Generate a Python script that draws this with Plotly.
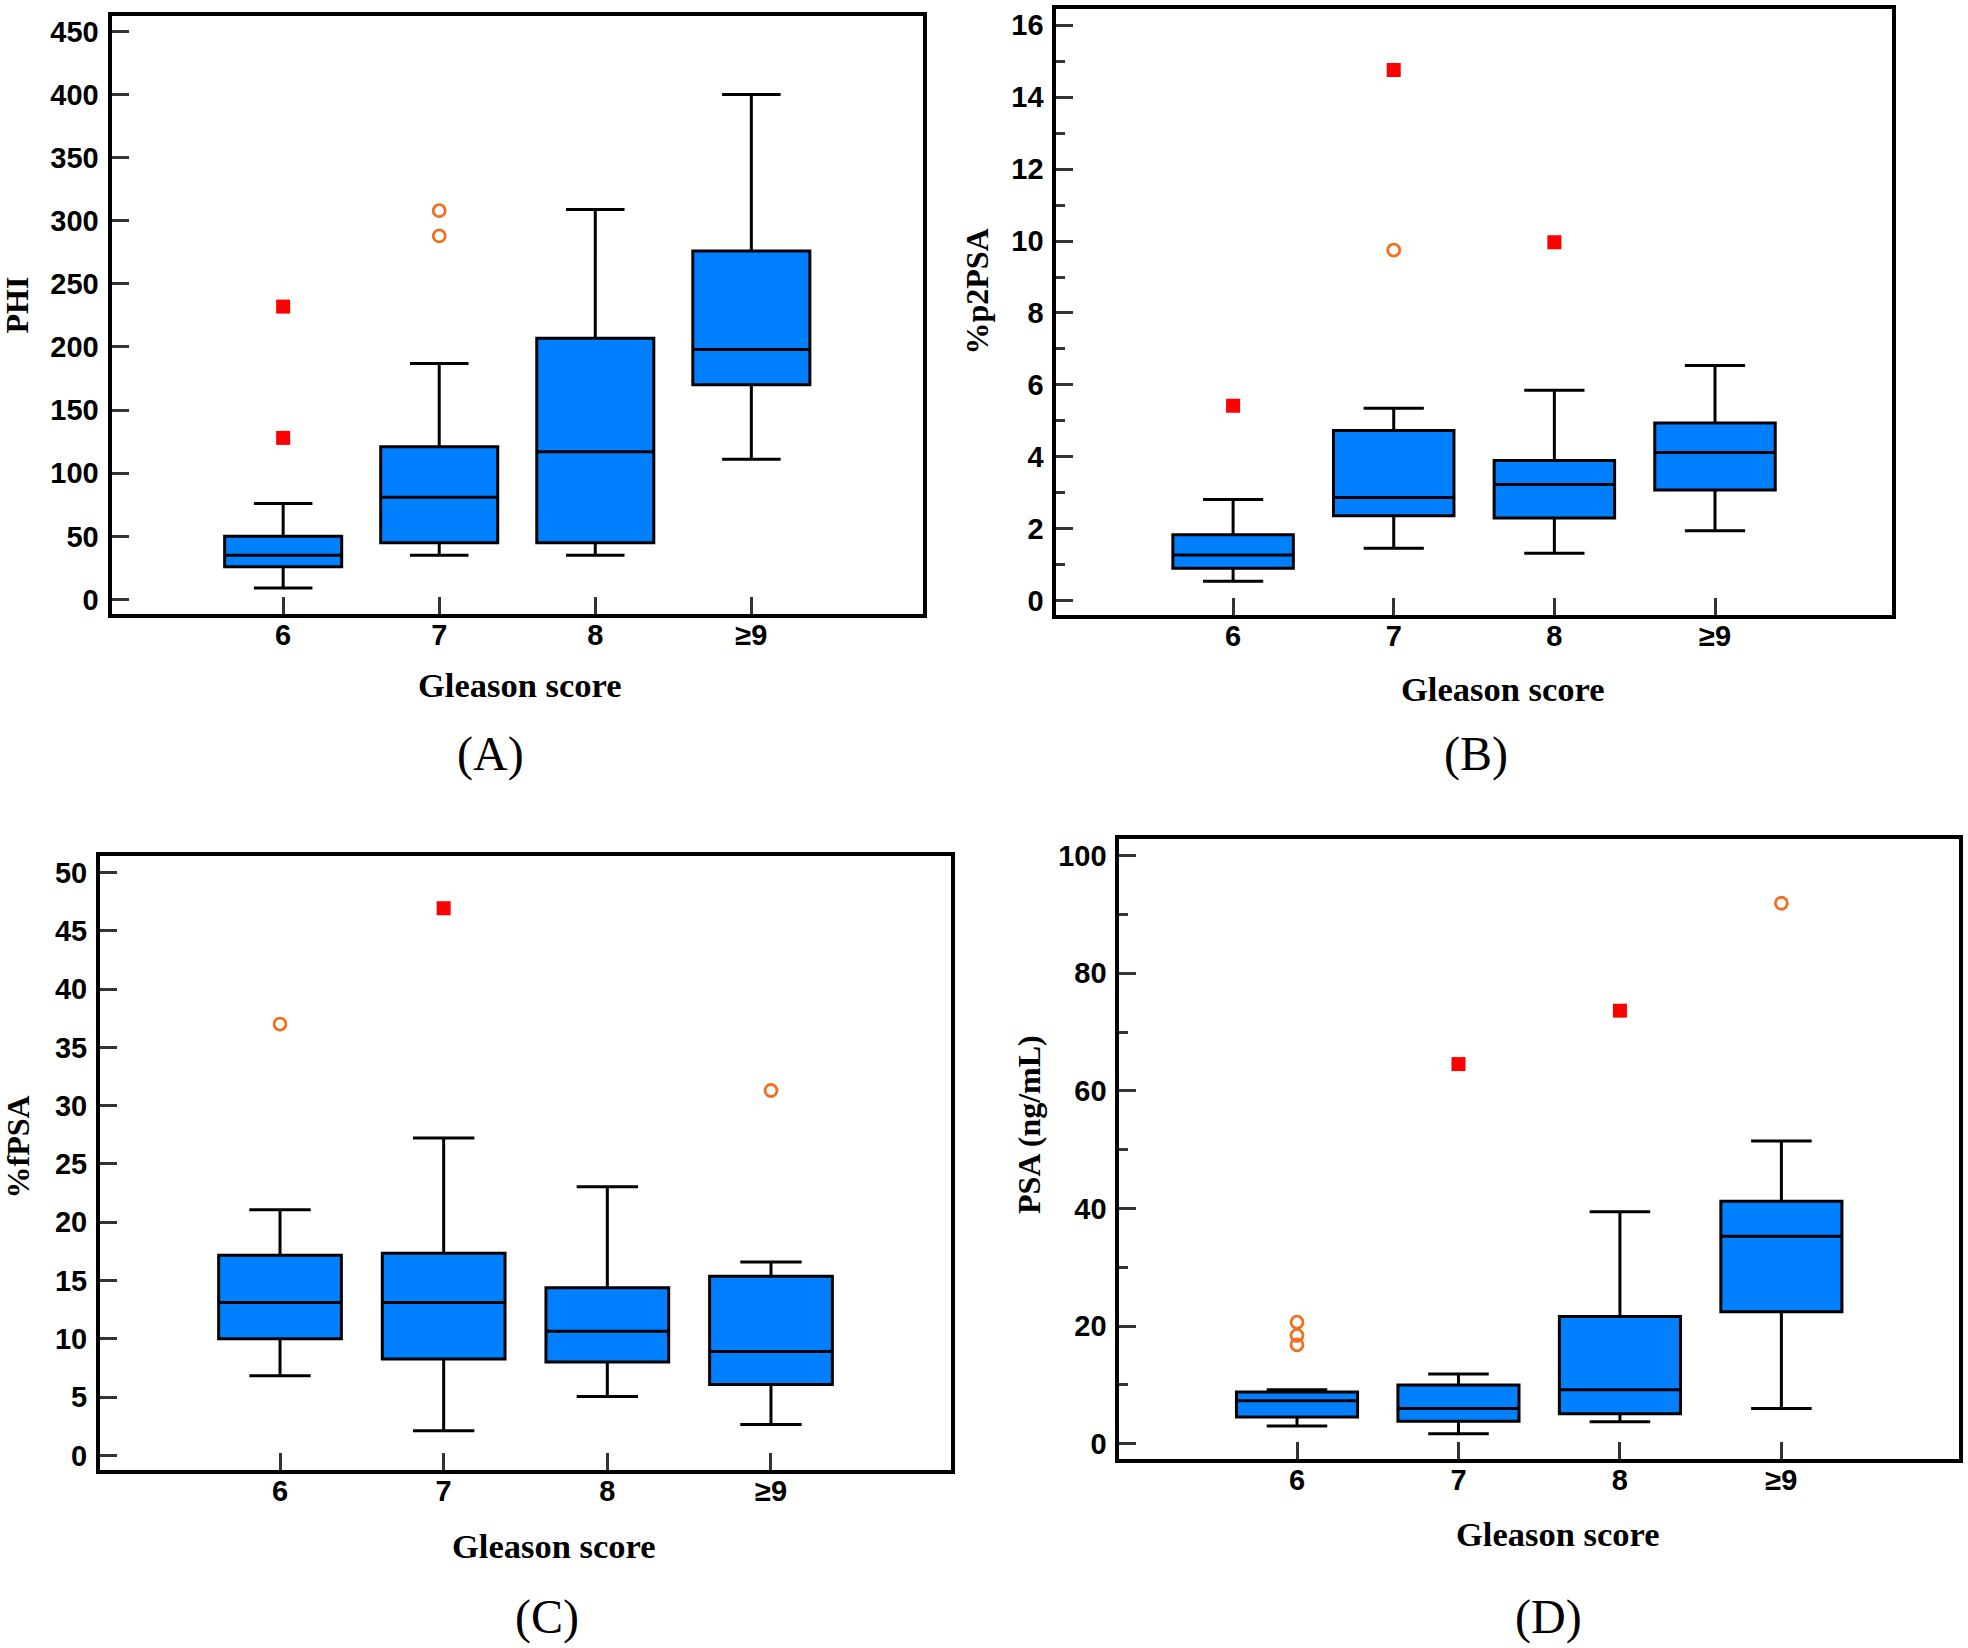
import plotly.graph_objects as go

W, H = 1968, 1648

categories = ['6', '7', '8', '≥9']

# Panel A: PHI
phi_q1 = [26, 45, 45, 170]
phi_med = [35, 81, 117, 198]
phi_q3 = [50, 121, 207, 276]
phi_lo = [9, 35, 35, 111]
phi_hi = [76, 187, 309, 400]
phi_far_x = ['6', '6']
phi_far_y = [232, 128]
phi_out_x = ['7', '7']
phi_out_y = [308, 288]

# Panel B: %p2PSA
p2_q1 = [0.90, 2.36, 2.30, 3.08]
p2_med = [1.27, 2.87, 3.23, 4.12]
p2_q3 = [1.83, 4.73, 3.90, 4.94]
p2_lo = [0.54, 1.46, 1.32, 1.94]
p2_hi = [2.81, 5.35, 5.85, 6.54]
p2_far_x = ['6', '7', '8']
p2_far_y = [5.42, 14.76, 9.97]
p2_out_x = ['7']
p2_out_y = [9.75]

# Panel C: %fPSA
f_q1 = [10.0, 8.27, 8.0, 6.07]
f_med = [13.12, 13.12, 10.65, 8.9]
f_q3 = [17.16, 17.34, 14.38, 15.37]
f_lo = [6.83, 2.12, 5.04, 2.65]
f_hi = [21.07, 27.22, 23.05, 16.58]
f_far_x = ['7']
f_far_y = [46.94]
f_out_x = ['6', '≥9']
f_out_y = [37.0, 31.3]

# Panel D: PSA (ng/mL)
psa_q1 = [4.53, 3.83, 5.07, 22.43]
psa_med = [7.3, 5.96, 9.16, 35.25]
psa_q3 = [8.8, 9.97, 21.63, 41.22]
psa_lo = [3.02, 1.68, 3.73, 5.96]
psa_hi = [9.16, 11.84, 39.45, 51.46]
psa_far_x = ['7', '8']
psa_far_y = [64.55, 73.64]
psa_out_x = ['6', '6', '6', '≥9']
psa_out_y = [20.65, 18.4, 16.8, 91.9]

BLUE = '#0080FF'
RED = '#FF0000'
ORANGE = '#F07020'
TICKFONT = dict(family='Liberation Sans, Arial, sans-serif', size=29, color='black', weight='bold')
SERIF = 'Liberation Serif, Times New Roman, serif'
LW = 4

panels = [
    dict(sfx='', frame=(109.5, 925, 13.5, 616.5), yr=[-11.8, 461.8], dtick=50, minor=None,
         q1=phi_q1, med=phi_med, q3=phi_q3, lo=phi_lo, hi=phi_hi,
         fx=phi_far_x, fy=phi_far_y, ox=phi_out_x, oy=phi_out_y),
    dict(sfx='2', frame=(1054.4, 1893.7, 6.5, 617.5), yr=[-0.41, 16.44], dtick=2, minor=1,
         q1=p2_q1, med=p2_med, q3=p2_q3, lo=p2_lo, hi=p2_hi,
         fx=p2_far_x, fy=p2_far_y, ox=p2_out_x, oy=p2_out_y),
    dict(sfx='3', frame=(98, 953, 854.3, 1473.6), yr=[-1.25, 51.44], dtick=5, minor=None,
         q1=f_q1, med=f_med, q3=f_q3, lo=f_lo, hi=f_hi,
         fx=f_far_x, fy=f_far_y, ox=f_out_x, oy=f_out_y),
    dict(sfx='4', frame=(1117.4, 1961, 837.4, 1462.6), yr=[-2.6, 102.85], dtick=20, minor=10,
         q1=psa_q1, med=psa_med, q3=psa_q3, lo=psa_lo, hi=psa_hi,
         fx=psa_far_x, fy=psa_far_y, ox=psa_out_x, oy=psa_out_y),
]

fig = go.Figure()
layout = dict(
    width=W, height=H, margin=dict(l=0, r=0, t=0, b=0),
    paper_bgcolor='white', plot_bgcolor='white', showlegend=False,
)

for p in panels:
    s = p['sfx']
    xa, ya = 'x' + s, 'y' + s
    fig.add_trace(go.Box(
        x=categories, q1=p['q1'], median=p['med'], q3=p['q3'],
        lowerfence=p['lo'], upperfence=p['hi'],
        fillcolor=BLUE, line=dict(color='black', width=3),
        width=0.75, whiskerwidth=0.5, boxpoints=False, orientation='v',
        xaxis=xa, yaxis=ya, hoverinfo='skip'))
    fig.add_trace(go.Scatter(
        x=p['fx'], y=p['fy'], mode='markers', xaxis=xa, yaxis=ya,
        marker=dict(symbol='square', size=14, color=RED, line=dict(width=0))))
    fig.add_trace(go.Scatter(
        x=p['ox'], y=p['oy'], mode='markers', xaxis=xa, yaxis=ya,
        marker=dict(symbol='circle-open', size=12, color=ORANGE, line=dict(width=2.8, color=ORANGE))))
    l, r, t, b = p['frame']
    l, r, t, b = l + LW / 2, r - LW / 2, t + LW / 2, b - LW / 2
    common = dict(showgrid=False, zeroline=False, showline=True, mirror=True,
                  linecolor='black', linewidth=LW, ticks='inside', ticklen=17,
                  tickwidth=3, tickcolor='#333333', tickfont=TICKFONT)
    xkey = 'xaxis' + s
    ykey = 'yaxis' + s
    layout[xkey] = dict(common, domain=[l / W, r / W], anchor=ya, type='category',
                        categoryorder='array', categoryarray=categories,
                        range=[-1.1, 4.1], ticklabelstandoff=-8)
    yax = dict(common, domain=[1 - b / H, 1 - t / H], anchor=xa, range=p['yr'],
               dtick=p['dtick'], tick0=0, ticklabelstandoff=3)
    if p['minor']:
        yax['minor'] = dict(dtick=p['minor'], ticks='inside', ticklen=9, tickwidth=3,
                            tickcolor='#333333', showgrid=False)
    layout[ykey] = yax

fig.update_layout(**layout)

def ann(text, px, py, size, bold=True, rot=0):
    fig.add_annotation(
        text=text, x=px / W, y=1 - py / H, xref='paper', yref='paper',
        xanchor='center', yanchor='middle', showarrow=False, textangle=rot,
        font=dict(family=SERIF, size=size, color='black', weight='bold' if bold else 'normal'))

# axis titles
ann('Gleason score', 519, 685, 34.5)
ann('Gleason score', 1502, 689, 34.5)
ann('Gleason score', 553.5, 1547.5, 34.5)
ann('Gleason score', 1557.6, 1536, 34.5)
ann('PHI', 17, 305, 32, rot=-90)
ann('%p2PSA', 977, 291, 32, rot=-90)
ann('%fPSA', 17.6, 1148, 32, rot=-90)
ann('PSA (ng/mL)', 1029, 1126, 32, rot=-90)
# panel labels
ann('(A)', 490, 754, 48, bold=False)
ann('(B)', 1476, 754, 48, bold=False)
ann('(C)', 547, 1619, 48, bold=False)
ann('(D)', 1548, 1619, 48, bold=False)

fig.write_html('out.html', config={'displayModeBar': False},
               post_script="document.body.style.margin='0';document.body.style.padding='0';"
                           "document.body.style.overflow='hidden';")
